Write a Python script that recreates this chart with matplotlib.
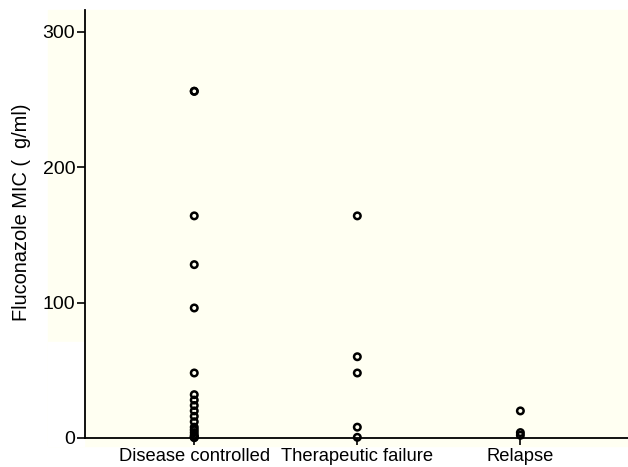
import matplotlib.pyplot as plt
from matplotlib.patches import Rectangle

plt.rcParams['font.family'] = ['Liberation Sans', 'DejaVu Sans']

# MIC values (ug/ml), one list per outcome group
groups = ["Disease controlled", "Therapeutic failure", "Relapse"]
controlled = [256, 256, 164, 128, 96, 48, 32, 28, 24, 20, 16, 12, 8, 6, 4, 2, 1, 0.5, 0.25]
failure = [164, 60, 48, 8, 0.5]
relapse = [20, 4, 2]
yticks = [0, 100, 200, 300]

W, H = 628, 467
fig = plt.figure(figsize=(W / 100, H / 100), dpi=100)

# cream panel behind the plot (as in the scanned original)
cream = "#fffff2"
fig.add_artist(Rectangle((48 / W, 1 - 446 / H), (W - 48) / W, 436 / H,
                         transform=fig.transFigure, color=cream, zorder=-10))
fig.add_artist(Rectangle((48 / W, 1 - 446 / H), 36 / W, 104 / H,
                         transform=fig.transFigure, color="white", zorder=-9))

ax = fig.add_axes([85 / W, 1 - 438 / H, (W - 85) / W, 428 / H])
ax.patch.set_alpha(0)

for i, vals in enumerate([controlled, failure, relapse]):
    ax.scatter([i + 1] * len(vals), vals, s=22, facecolors="none",
               edgecolors="black", linewidths=1.8, clip_on=False, zorder=3)

ax.set_xlim(0.33, 3.66)
ax.set_ylim(0, 316)
ax.set_xticks([1, 2, 3])
ax.set_xticklabels(groups, fontsize=13.2)
ax.set_yticks(yticks)
ax.tick_params(axis="y", labelsize=14, length=6, width=1.2, direction="out", pad=1)
ax.tick_params(axis="x", length=5, width=1.2, direction="out", pad=2)
ax.set_ylabel("Fluconazole MIC (  g/ml)", fontsize=14.4)
ax.yaxis.set_label_coords(-0.1, 0.528)

for side in ["top", "right"]:
    ax.spines[side].set_visible(False)
for side in ["left", "bottom"]:
    ax.spines[side].set_linewidth(1.3)

fig.savefig("out.png", dpi=100)
